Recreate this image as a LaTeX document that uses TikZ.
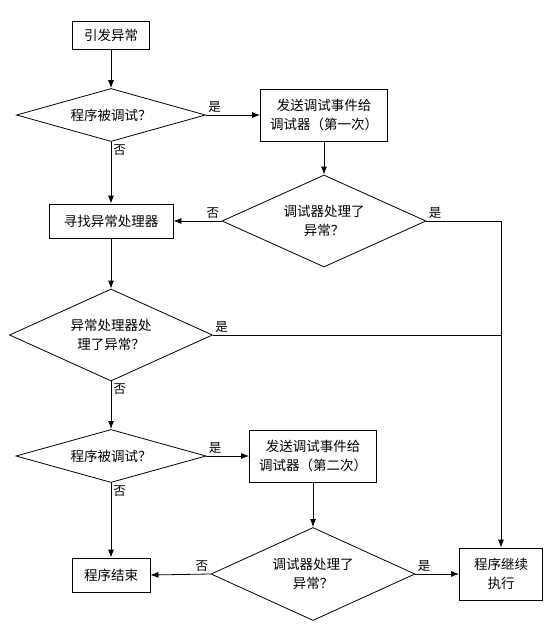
\documentclass[tikz,border=0pt]{standalone}
\usepackage{fontspec}
\setmainfont{Noto Sans CJK SC}
\usetikzlibrary{arrows.meta,shapes.geometric,positioning}

\begin{document}
\begin{tikzpicture}
[x=1pt,y=-1pt,
 every node/.style={font=\fontsize{13.5}{19.5}\selectfont},
 box/.style={rectangle,draw,line width=0.8pt,inner sep=0pt,align=center},
 decision/.style={diamond,draw,line width=0.8pt,inner sep=0pt,aspect=2,align=center},
 flow/.style={line width=0.8pt,-{Latex[length=8pt,width=6pt]}},
 plain/.style={line width=0.8pt},
 answer/.style={font=\fontsize{12.5}{12.5}\selectfont,inner sep=2pt}]
\useasboundingbox (0,0) rectangle (558,641);
%% first chance
\node[box,minimum width=77pt,minimum height=28pt] (raise) at (111,35) {引发异常};
\node[decision,minimum width=189pt,minimum height=51pt] (debugged1) at (111,115) {程序被调试？};
\node[box,minimum width=127pt,minimum height=52pt] (send1) at (324,115) {发送调试事件给\\调试器（第一次）};
\node[decision,minimum width=204pt,minimum height=92pt] (handled1) at (324,221) {调试器处理了\\异常？};
\node[box,minimum width=124pt,minimum height=34pt] (search) at (111,221) {寻找异常处理器};
%% edges
\draw[flow] (raise) -- (debugged1.north);
\draw[flow] (debugged1.east) -- node[answer,pos=0,above right] {是} (send1.west);
\draw[flow] (debugged1.south) -- node[answer,pos=0,below right] {否} (search.north);
\draw[flow] (send1) -- (handled1.north);
\draw[flow] (handled1.west) -- node[answer,pos=0,above left] {否} (search.east);
%
%% exception handler
\node[decision,minimum width=203pt,minimum height=92pt] (handler) at (111,335) {异常处理器处\\理了异常？};
\node[decision,minimum width=190pt,minimum height=51pt] (debugged2) at (111,456) {程序被调试？};
\node[box,minimum width=127pt,minimum height=52pt] (send2) at (313,456) {发送调试事件给\\调试器（第二次）};
%% edges
\draw[flow] (search) -- (handler.north);
\draw[flow] (handler.south) -- node[answer,pos=0,below right] {否} (debugged2.north);
\draw[flow] (debugged2.east) -- node[answer,pos=0,above right] {是} (send2.west);
%
%% last chance
\node[decision,minimum width=204pt,minimum height=93pt] (handled2) at (313,574) {调试器处理了\\异常？};
\node[box,minimum width=78pt,minimum height=34pt] (finish) at (111,575) {程序结束};
\node[box,minimum width=83pt,minimum height=52pt] (resume) at (501,574) {程序继续\\执行};
%% edges
\draw[flow] (send2) -- (handled2.north);
\draw[flow] (debugged2.south) -- node[answer,pos=0,below right] {否} (finish.north);
\draw[flow] (handled2.west) -- node[answer,pos=0,above left] {否} (finish.east);
\draw[flow] (handled2.east) -- node[answer,pos=0,above right] {是} (resume.west);
\draw[flow] (handled1.east) -| node[answer,pos=0,above right] {是} (resume.north);
\draw[plain] (handler.east) -- node[answer,pos=0,above right] {是} (handler.east -| resume.north);
\end{tikzpicture}
\end{document}
